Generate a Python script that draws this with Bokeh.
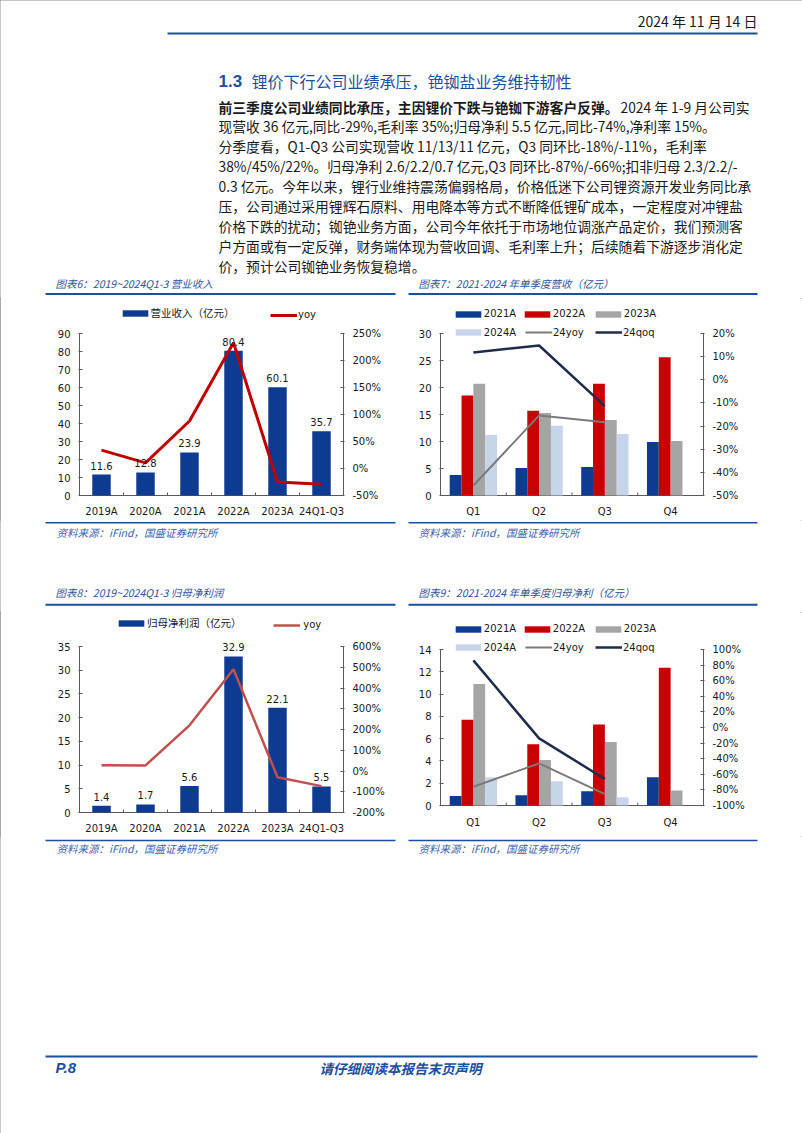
from bokeh.plotting import figure
from bokeh.models import (Range1d, LinearAxis, FixedTicker, NumeralTickFormatter,
                          ColumnDataSource, LabelSet, Legend, LegendItem)
from bokeh.layouts import column, row
from bokeh.embed import file_html
from bokeh.resources import INLINE
from bokeh.core.properties import value

# ---------------- data ----------------
years = ["2019A", "2020A", "2021A", "2022A", "2023A", "24Q1-Q3"]
revenue = [11.6, 12.8, 23.9, 80.4, 60.1, 35.7]
revenue_yoy = [0.34, 0.105, 0.88, 2.33, -0.25, -0.29]
profit = [1.4, 1.7, 5.6, 32.9, 22.1, 5.5]
profit_yoy = [0.28, 0.27, 2.20, 4.90, -0.30, -0.73]

quarters = ["Q1", "Q2", "Q3", "Q4"]
series_names = ["2021A", "2022A", "2023A", "2024A"]
q_rev_2021 = [3.8, 5.1, 5.3, 9.9]
q_rev_2022 = [18.5, 15.7, 20.7, 25.6]
q_rev_2023 = [20.7, 15.3, 14.0, 10.1]
q_rev_2024 = [11.2, 12.9, 11.4]
q_rev_yoy24 = [-0.457, -0.154, -0.183]
q_rev_qoq24 = [0.118, 0.148, -0.114]

q_np_2021 = [0.86, 0.92, 1.28, 2.53]
q_np_2022 = [7.7, 5.5, 7.27, 12.36]
q_np_2023 = [10.9, 4.08, 5.69, 1.34]
q_np_2024 = [2.53, 2.18, 0.74]
q_np_yoy24 = [-0.76, -0.46, -0.855]
q_np_qoq24 = [0.86, -0.14, -0.66]

rev_ticks = [0, 10, 20, 30, 40, 50, 60, 70, 80, 90]
rev_pct_ticks = [-0.5, 0.0, 0.5, 1.0, 1.5, 2.0, 2.5]
np_ticks = [0, 5, 10, 15, 20, 25, 30, 35]
np_pct_ticks = [-2.0, -1.0, 0.0, 1.0, 2.0, 3.0, 4.0, 5.0, 6.0]
qrev_ticks = [0, 5, 10, 15, 20, 25, 30]
qrev_pct_ticks = [-0.5, -0.4, -0.3, -0.2, -0.1, 0.0, 0.1, 0.2]
qnp_ticks = [0, 2, 4, 6, 8, 10, 12, 14]
qnp_pct_ticks = [-1.0, -0.8, -0.6, -0.4, -0.2, 0.0, 0.2, 0.4, 0.6, 0.8, 1.0]

# ---------------- style ----------------
CJK = "Noto Sans CJK SC"
NUM = "DejaVu Sans"
BAR_BLUE = "#0E3B92"
BAR_RED = "#C80000"
BAR_GRAY = "#A5A5A5"
BAR_LIGHT = "#C7D5EB"
YOY_GRAY = "#7A7A7A"
QOQ_NAVY = "#1E2D4C"
AXIS = "#5A5A5A"
TXT = "#1a1a1a"
HEAD_BLUE = "#1D4F9E"
TITLE_BLUE = "#2F5496"
SRC_BLUE = "#3B64AD"


def make_chart(cats, ticks, pct_ticks, y0, H, T, A, B, F, ax_left, ax_right, x_standoff):
    """Page y: y0 figure top, T frame top, A top tick, B zero line, F frame bottom.
    ax_left / ax_right: x (figure px) of the left / right axis lines."""
    n = len(cats)
    W = ax_right - ax_left
    pad = n / W
    ymax = ticks[-1]
    pmin, pmax = pct_ticks[0], pct_ticks[-1]
    ppu = (B - A) / ymax
    pppu = (B - A) / (pmax - pmin)
    p = figure(width=401, height=H, x_range=Range1d(-pad, n + pad),
               y_range=Range1d(-(F - B) / ppu, ymax + (A - T) / ppu),
               output_backend="svg", toolbar_location=None,
               min_border_left=ax_left - 1, min_border_right=401 - (ax_right + 1),
               min_border_top=T - y0, min_border_bottom=y0 + H - F)
    p.extra_y_ranges = {"pct": Range1d(pmin - (F - B) / pppu, pmax + (A - T) / pppu)}
    p.outline_line_color = None
    p.background_fill_color = "white"
    p.border_fill_color = "white"
    p.xgrid.visible = False
    p.ygrid.visible = False
    centers = [i + 0.5 for i in range(n)]
    p.xaxis.ticker = FixedTicker(ticks=centers)
    p.xaxis.major_label_overrides = {c: lab for c, lab in zip(centers, cats)}
    p.yaxis.ticker = FixedTicker(ticks=ticks)
    rax = LinearAxis(y_range_name="pct", ticker=FixedTicker(ticks=pct_ticks),
                     formatter=NumeralTickFormatter(format="0%"))
    p.add_layout(rax, "right")
    for ax in list(p.xaxis) + list(p.yaxis):
        ax.axis_line_color = None
        ax.major_tick_line_color = AXIS
        ax.major_tick_in = 4
        ax.major_tick_out = 0
        ax.minor_tick_line_color = None
        ax.major_label_text_font = NUM
        ax.major_label_text_font_size = "10px"
        ax.major_label_text_color = TXT
        ax.major_label_standoff = 8
    xa = p.xaxis[0]
    xa.major_tick_line_color = None
    xa.major_label_standoff = x_standoff
    # axis lines: left, right, baseline, and small ticks between categories
    p.segment(x0=[0, n, 0], y0=[0, 0, 0], x1=[0, n, n], y1=[ymax, ymax, 0],
              line_color=AXIS, line_width=1)
    bounds = list(range(1, n))
    p.segment(x0=bounds, y0=[0] * len(bounds), x1=bounds, y1=[3 / ppu] * len(bounds),
              line_color=AXIS, line_width=1)
    return p, centers


def add_leg(p, label, rend, x_off, y_off, glyph_w, standoff, font, size):
    leg = Legend(items=[LegendItem(label=value(label), renderers=[rend])],
                 location=(x_off, y_off), orientation="horizontal",
                 glyph_width=glyph_w, glyph_height=8, label_standoff=standoff,
                 padding=0, margin=0, spacing=0, border_line_color=None,
                 background_fill_alpha=0, label_text_font=font,
                 label_text_font_size=size, label_text_color=TXT,
                 label_height=10, label_width=10)
    p.add_layout(leg)


def annual_chart(vals, yoy, ticks, pct_ticks, bar_label, line_color, line_width,
                 frame, x_standoff, leg_y, leg_bar_x, leg_line_x, leg_line_standoff):
    p, centers = make_chart(years, ticks, pct_ticks, *frame, 79, 343, x_standoff)
    src = ColumnDataSource(dict(x=centers, top=vals, label=[f"{v:.1f}" for v in vals]))
    r_bar = p.vbar(x="x", top="top", width=0.42, source=src, color=BAR_BLUE, line_color=None)
    p.add_layout(LabelSet(x="x", y="top", text="label", source=src, y_offset=5,
                          text_align="center", text_baseline="bottom",
                          text_font=value(NUM), text_font_size="10px", text_color=TXT))
    r_line = p.line(x=centers, y=yoy, y_range_name="pct", line_color=line_color,
                    line_width=line_width)
    add_leg(p, bar_label, r_bar, leg_bar_x, leg_y, 32, 0, CJK, "10.5px")
    add_leg(p, "yoy", r_line, leg_line_x, leg_y, 27, leg_line_standoff, NUM, "10px")
    return p


def quarterly_chart(bars, yoy, qoq, ticks, pct_ticks, frame, x_standoff, row1_y, row2_y):
    p, centers = make_chart(quarters, ticks, pct_ticks, *frame, 39, 302, x_standoff)
    colors = [BAR_BLUE, BAR_RED, BAR_GRAY, BAR_LIGHT]
    offsets = [-0.27, -0.09, 0.09, 0.27]
    rends = []
    for vals, c, off in zip(bars, colors, offsets):
        src = ColumnDataSource(dict(x=[cx + off for cx in centers[:len(vals)]], top=vals))
        rends.append(p.vbar(x="x", top="top", width=0.18, source=src, color=c, line_color=None))
    r_yoy = p.line(x=centers[:len(yoy)], y=yoy, y_range_name="pct",
                   line_color=YOY_GRAY, line_width=2)
    r_qoq = p.line(x=centers[:len(qoq)], y=qoq, y_range_name="pct",
                   line_color=QOQ_NAVY, line_width=2.5)
    add_leg(p, series_names[0], rends[0], 12.8, row1_y, 32, 0, NUM, "10px")
    add_leg(p, series_names[1], rends[1], 81.8, row1_y, 32, 0, NUM, "10px")
    add_leg(p, series_names[2], rends[2], 152.8, row1_y, 32, 0, NUM, "10px")
    add_leg(p, series_names[3], rends[3], 12.8, row2_y, 32, 0, NUM, "10px")
    add_leg(p, "24yoy", r_yoy, 86, row2_y, 27, 1, NUM, "10px")
    add_leg(p, "24qoq", r_qoq, 156, row2_y, 27, 1, NUM, "10px")
    return p


# ---------------- page pieces ----------------
def page_fig(h):
    f = figure(width=802, height=h, x_range=Range1d(0, 802), y_range=Range1d(h, 0),
               output_backend="svg", toolbar_location=None,
               x_axis_location=None, y_axis_location=None, min_border=0)
    f.outline_line_color = None
    f.background_fill_color = "white"
    f.border_fill_color = "white"
    f.xgrid.visible = False
    f.ygrid.visible = False
    return f


def txt(f, x, y, s, size, color, font=CJK, style="normal", align="left"):
    f.text(x=[x], y=[y], text=[s], text_font=value(font), text_font_size=size,
           text_color=color, text_font_style=style, text_align=align,
           text_baseline="middle")


def hline(f, x0, x1, y, color, w):
    f.segment(x0=[x0], y0=[y], x1=[x1], y1=[y], line_color=color, line_width=w)


top = page_fig(298)
txt(top, 757, 20, "2024 年 11 月 14 日", "14px", TXT, align="right")
hline(top, 167, 757, 33, HEAD_BLUE, 2)
txt(top, 218, 80, "1.3", "17px", HEAD_BLUE, font="Liberation Sans", style="bold")
txt(top, 251, 80, "锂价下行公司业绩承压，铯铷盐业务维持韧性", "16px", HEAD_BLUE)

body_lines = [
    "现营收 36 亿元,同比-29%,毛利率 35%;归母净利 5.5 亿元,同比-74%,净利率 15%。",
    "分季度看，Q1-Q3 公司实现营收 11/13/11 亿元，Q3 同环比-18%/-11%，毛利率",
    "38%/45%/22%。归母净利 2.6/2.2/0.7 亿元,Q3 同环比-87%/-66%;扣非归母 2.3/2.2/-",
    "0.3 亿元。今年以来，锂行业维持震荡偏弱格局，价格低迷下公司锂资源开发业务同比承",
    "压，公司通过采用锂辉石原料、用电降本等方式不断降低锂矿成本，一定程度对冲锂盐",
    "价格下跌的扰动；铷铯业务方面，公司今年依托于市场地位调涨产品定价，我们预测客",
    "户方面或有一定反弹，财务端体现为营收回调、毛利率上升；后续随着下游逐步消化定",
    "价，预计公司铷铯业务恢复稳增。",
]
BODY = "13.8px"
txt(top, 218, 106, "前三季度公司业绩同比承压，主因锂价下跌与铯铷下游客户反弹。", BODY, TXT, style="bold")
txt(top, 620, 106, "2024 年 1-9 月公司实", BODY, TXT)
for i, s in enumerate(body_lines):
    txt(top, 218, 106 + 19.9 * (i + 1), s, BODY, TXT)

txt(top, 55, 283, "图表6：2019~2024Q1-3 营业收入", "10.5px", TITLE_BLUE, style="italic")
txt(top, 418, 283, "图表7：2021-2024 年单季度营收（亿元）", "10.5px", TITLE_BLUE, style="italic")
hline(top, 45, 395, 293.5, HEAD_BLUE, 2)
hline(top, 408, 757, 293.5, HEAD_BLUE, 2)

mid = page_fig(92)
hline(mid, 45, 395, 2.3, HEAD_BLUE, 1.5)
hline(mid, 408, 757, 2.3, HEAD_BLUE, 1.5)
txt(mid, 56, 11.7, "资料来源：iFind，国盛证券研究所", "10.5px", SRC_BLUE, style="italic")
txt(mid, 418, 11.7, "资料来源：iFind，国盛证券研究所", "10.5px", SRC_BLUE, style="italic")
txt(mid, 55, 72.3, "图表8：2019~2024Q1-3 归母净利润", "10.5px", TITLE_BLUE, style="italic")
txt(mid, 418, 72.3, "图表9：2021-2024 年单季度归母净利（亿元）", "10.5px", TITLE_BLUE, style="italic")
hline(mid, 45, 395, 84.3, HEAD_BLUE, 2)
hline(mid, 408, 757, 84.3, HEAD_BLUE, 2)

bot = page_fig(297)
hline(bot, 45, 395, 4, HEAD_BLUE, 1.5)
hline(bot, 408, 757, 4, HEAD_BLUE, 1.5)
txt(bot, 56, 12, "资料来源：iFind，国盛证券研究所", "10.5px", SRC_BLUE, style="italic")
txt(bot, 418, 11.5, "资料来源：iFind，国盛证券研究所", "10.5px", SRC_BLUE, style="italic")
hline(bot, 45, 757, 220, HEAD_BLUE, 2)
txt(bot, 55, 231, "P.8", "15px", HEAD_BLUE, font="Liberation Sans", style="bold italic")
txt(bot, 400, 231, "请仔细阅读本报告末页声明", "13.5px", HEAD_BLUE, style="bold italic", align="center")

# ---------------- charts ----------------
# frame tuples: (figure top, height, frame top, top tick, zero, frame bottom) in page px
frame6 = (298, 222, 303, 333, 495, 496)
frame7 = (298, 222, 303, 333, 495, 496)
frame8 = (612, 224, 614, 646, 812, 813)
frame9 = (612, 224, 614, 649, 805, 813)

c6 = annual_chart(revenue, revenue_yoy, rev_ticks, rev_pct_ticks, "营业收入（亿元）",
                  "#C00000", 3, frame6, 9, 176, 40.5, 192, 1)
c8 = annual_chart(profit, profit_yoy, np_ticks, np_pct_ticks, "归母净利润（亿元）",
                  "#C0504D", 2.5, frame8, 9, 182.7, 37.1, 195.3, 3)
c7 = quarterly_chart([q_rev_2021, q_rev_2022, q_rev_2023, q_rev_2024], q_rev_yoy24, q_rev_qoq24,
                     qrev_ticks, qrev_pct_ticks, frame7, 9, 176.7, 158.3)
c9 = quarterly_chart([q_np_2021, q_np_2022, q_np_2023, q_np_2024], q_np_yoy24, q_np_qoq24,
                     qnp_ticks, qnp_pct_ticks, frame9, 3, 178.7, 160.3)

page = column(top, row(c6, c7, spacing=0), mid, row(c8, c9, spacing=0), bot, spacing=0,
              styles={"outline": "1px solid #8c8c8c", "outline-offset": "-1px"})

open("out.html", "w").write(file_html(page, INLINE))
